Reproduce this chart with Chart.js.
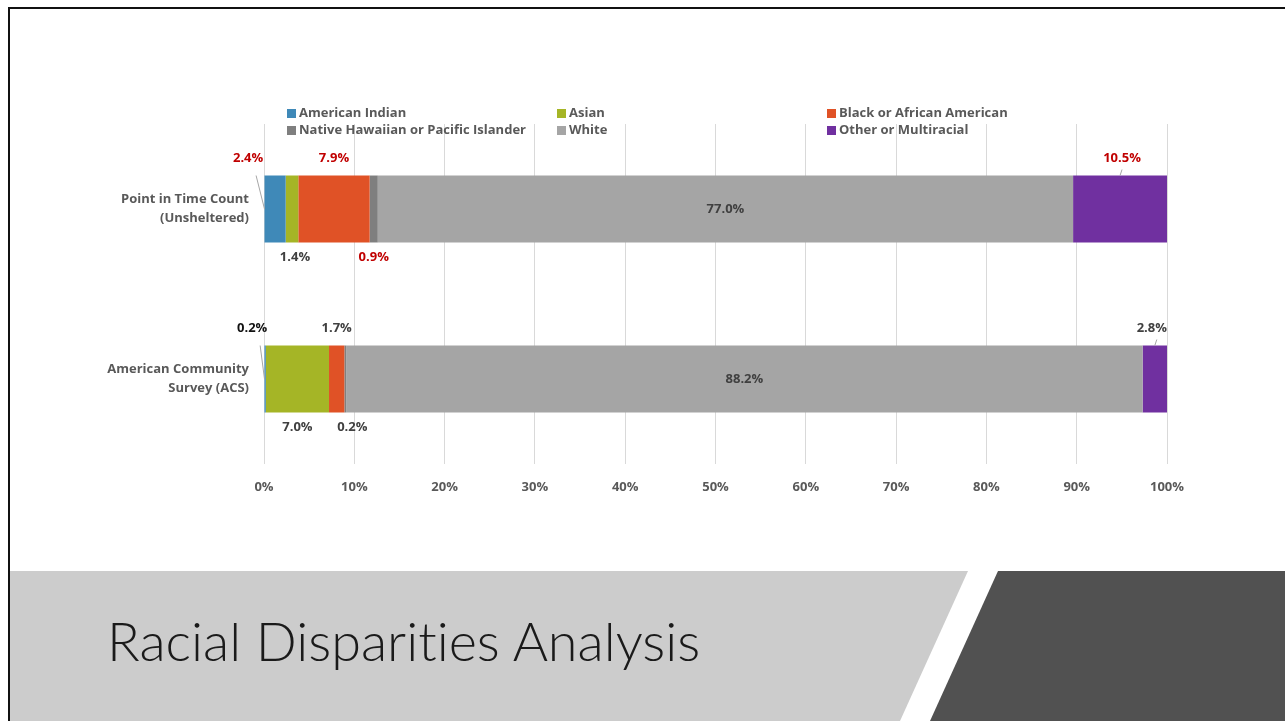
<!DOCTYPE html>
<html>
<head>
<meta charset="utf-8">
<script src="https://cdn.jsdelivr.net/npm/chart.js@4/dist/chart.umd.min.js"></script>
<style>
  html, body { margin: 0; padding: 0; background: #fff; }
  body { width: 1285px; height: 721px; position: relative; overflow: hidden; }
  #frame { position: absolute; left: 8px; top: 7px; width: 1290px; height: 720px;
           border-left: 2px solid #111; border-top: 2px solid #111; }
  #chartBox { position: absolute; left: 0; top: 0; width: 1285px; height: 560px; }
  #band { position: absolute; left: 10px; top: 571px; width: 1275px; height: 150px; }
  .light { position: absolute; left: 0; top: 0; width: 100%; height: 100%; background: #cccccc;
           clip-path: polygon(0 0, 958px 0, 890px 150px, 0 150px); }
  .dark { position: absolute; left: 0; top: 0; width: 100%; height: 100%; background: #515151;
          clip-path: polygon(988px 0, 1275px 0, 1275px 150px, 920px 150px); }
  #title { position: absolute; left: 107px; top: 608px; font-family: Lato, sans-serif; font-weight: 300;
           font-size: 54px; color: #1a1a1a; white-space: nowrap; font-variant-ligatures: none; }
</style>
</head>
<body>
<div id="frame"></div>
<div id="band"><div class="light"></div><div class="dark"></div></div>
<div id="title">Racial Disparities Analysis</div>
<div id="chartBox"><canvas id="chart"></canvas></div>
<script>
const categories = [['Point in Time Count', '(Unsheltered)'], ['American Community', 'Survey (ACS)']];
const groups = ['American Indian', 'Asian', 'Black or African American',
  'Native Hawaiian or Pacific Islander', 'White', 'Other or Multiracial'];
const americanIndian = [2.4, 0.2];
const asian = [1.4, 7.0];
const black = [7.9, 1.7];
const nativeHawaiian = [0.9, 0.2];
const white = [77.0, 88.2];
const other = [10.5, 2.8];
const xTicks = ['0%', '10%', '20%', '30%', '40%', '50%', '60%', '70%', '80%', '90%', '100%'];

const colors = ['#3f89b8', '#a5b526', '#e05226', '#7f7f7f', '#a5a5a5', '#7030a0'];

// label placement per series, [top bar, bottom bar]
const labelPos = [['above', 'above'], ['below', 'below'], ['above', 'above'],
  ['below', 'below'], ['center', 'center'], ['above', 'above']];
const labelDx = [[-27, -13], [3, 0], [0, 0], [0, 7], [0, 0], [2, -3]];
const labelColor = [['#c00000', '#111111'], ['#404040', '#404040'], ['#c00000', '#404040'],
  ['#c00000', '#404040'], ['#404040', '#404040'], ['#c00000', '#404040']];
const leader = [['edge', 'edge'], [null, null], [null, null], [null, null], [null, null], ['top', 'top']];

const series = [americanIndian, asian, black, nativeHawaiian, white, other];

const FONT = '"Open Sans", Lato, sans-serif';

const labelPlugin = {
  id: 'segLabels',
  afterDatasetsDraw(chart) {
    const ctx = chart.ctx;
    ctx.save();
    ctx.font = 'bold 13px ' + FONT;
    ctx.textAlign = 'center';
    ctx.textBaseline = 'middle';
    chart.data.datasets.forEach((ds, i) => {
      const meta = chart.getDatasetMeta(i);
      meta.data.forEach((bar, j) => {
        const left = Math.min(bar.base, bar.x);
        const right = Math.min(Math.max(bar.base, bar.x), chart.chartArea.right);
        const cx = (left + right) / 2;
        const top = bar.y - bar.height / 2;
        const bottom = bar.y + bar.height / 2;
        let x = cx + labelDx[i][j];
        let y = bar.y;
        if (labelPos[i][j] === 'above') y = top - 17;
        if (labelPos[i][j] === 'below') y = bottom + 15;
        const lead = leader[i][j];
        if (lead) {
          ctx.strokeStyle = '#a6a6a6';
          ctx.lineWidth = 1;
          ctx.beginPath();
          if (lead === 'edge') {
            ctx.moveTo(left, bar.y);
            ctx.lineTo(x + 8, y + 17);
          } else {
            ctx.moveTo(cx, top);
            ctx.lineTo(cx + 2, top - 6);
          }
          ctx.stroke();
        }
        ctx.fillStyle = labelColor[i][j];
        ctx.fillText(ds.data[j].toFixed(1) + '%', x, y);
      });
    });
    ctx.restore();
  }
};

const legendPlugin = {
  id: 'gridLegend',
  afterDraw(chart) {
    const ctx = chart.ctx;
    const colX = [288, 558, 828];
    const rowY = [113, 130];
    ctx.save();
    ctx.font = 'bold 13px ' + FONT;
    ctx.textAlign = 'left';
    ctx.textBaseline = 'middle';
    chart.data.datasets.forEach((ds, i) => {
      const x = colX[i % 3];
      const y = rowY[Math.floor(i / 3)];
      ctx.fillStyle = ds.backgroundColor;
      ctx.fillRect(x - 1, y - 4, 9, 9);
      ctx.fillStyle = '#595959';
      ctx.fillText(ds.label, x + 11, y);
    });
    ctx.restore();
  }
};

new Chart(document.getElementById('chart'), {
  type: 'bar',
  data: {
    labels: categories,
    datasets: groups.map((g, i) => ({
      label: g,
      data: series[i],
      backgroundColor: colors[i],
      borderWidth: 0,
      barPercentage: 1,
      categoryPercentage: 0.394
    }))
  },
  options: {
    indexAxis: 'y',
    responsive: true,
    maintainAspectRatio: false,
    animation: false,
    layout: { padding: { top: 124, right: 118, left: 0, bottom: 0 } },
    plugins: { legend: { display: false }, tooltip: { enabled: false } },
    scales: {
      x: {
        stacked: true,
        min: 0,
        max: 100,
        grid: { color: '#d9d9d9', drawTicks: false },
        border: { display: false },
        ticks: {
          stepSize: 10,
          padding: 15,
          color: '#595959',
          font: { family: FONT, size: 13, weight: 'bold' },
          callback: (v, idx) => xTicks[idx]
        },
        afterFit: s => { s.height = 96; }
      },
      y: {
        stacked: true,
        grid: { display: false, drawTicks: false },
        border: { display: false },
        ticks: {
          padding: 15,
          color: '#595959',
          font: { family: FONT, size: 13, weight: 'bold', lineHeight: 1.45 }
        },
        afterFit: s => { s.width = 264; }
      }
    }
  },
  plugins: [labelPlugin, legendPlugin]
});
</script>
</body>
</html>
